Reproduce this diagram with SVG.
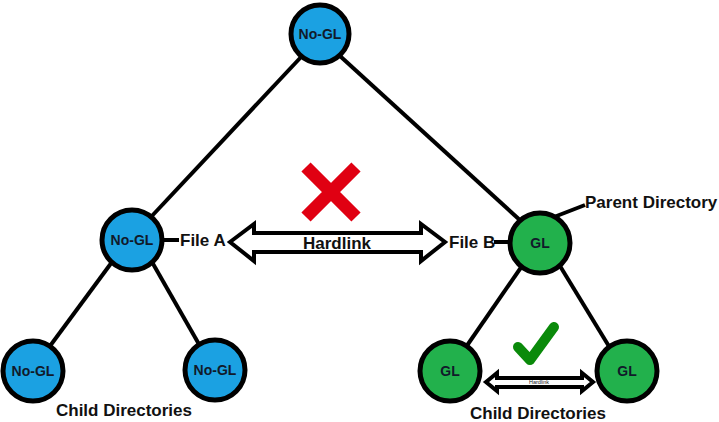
<svg xmlns="http://www.w3.org/2000/svg" width="719" height="422" viewBox="0 0 719 422">
<style>
.blue{fill:#1ba1e2;stroke:#000;stroke-width:5}
.green{fill:#22b14c;stroke:#000;stroke-width:5}
.nl{font-family:"Liberation Sans",Arial,sans-serif;font-weight:bold;font-size:14px;fill:#111a2a;text-anchor:middle}
.lbl{font-family:"Liberation Sans",Arial,sans-serif;font-weight:bold;font-size:17px;fill:#111}
.edge{stroke:#000;stroke-width:4;fill:none}
.arrow{fill:#fff;stroke:#000;stroke-width:4;stroke-linejoin:miter}
</style>
<rect width="719" height="422" fill="#fff"/>
<g id="connectors">
<line class="edge" x1="302" y1="56" x2="150" y2="218"/>
<line class="edge" x1="340" y1="56" x2="522" y2="222"/>
<line class="edge" x1="112" y1="262" x2="50" y2="346"/>
<line class="edge" x1="152" y1="262" x2="200" y2="346"/>
<line class="edge" x1="522" y1="266" x2="466" y2="347"/>
<line class="edge" x1="560" y1="266" x2="610" y2="348"/>
<line class="edge" x1="162" y1="240" x2="179" y2="240" stroke-width="3"/>
<line class="edge" x1="494" y1="242" x2="510" y2="242" stroke-width="3"/>
<line class="edge" x1="554" y1="217" x2="585" y2="205" stroke-width="3"/>
</g>
<g id="hardlink-big">
<path class="arrow" d="M230,242 L254,224 L254,233 L421,233 L421,224 L445,242 L421,261 L421,252 L254,252 L254,261 Z"/>
<text class="lbl" x="337" y="249" text-anchor="middle">Hardlink</text>
</g>
<g id="cross">
<path d="M306,167 L356,217 M356,167 L306,217" stroke="#e00012" stroke-width="13" fill="none"/>
</g>
<g id="hardlink-small">
<path class="arrow" stroke-width="1.3" d="M486,382 L497,373 L497,378 L582,378 L582,373 L593,382 L582,391 L582,387 L497,387 L497,391 Z"/>
<text x="539" y="384" text-anchor="middle" font-family="Liberation Sans,Arial,sans-serif" font-size="5.5" fill="#222">Hardlink</text>
</g>
<g id="check">
<path d="M518,347 L530,360 L554,327" stroke="#0a8a0a" stroke-width="10" stroke-linecap="round" stroke-linejoin="round" fill="none"/>
</g>
<g id="n-top"><circle class="blue" cx="320" cy="34" r="29"/><text class="nl" x="320" y="39">No-GL</text></g>
<g id="n-left"><circle class="blue" cx="132" cy="240" r="30"/><text class="nl" x="132" y="245">No-GL</text></g>
<g id="n-right"><circle class="green" cx="540" cy="243" r="30"/><text class="nl" x="540" y="248">GL</text></g>
<g id="n-ll"><circle class="blue" cx="33" cy="371" r="30"/><text class="nl" x="33" y="376">No-GL</text></g>
<g id="n-lr"><circle class="blue" cx="215" cy="370" r="30"/><text class="nl" x="215" y="375">No-GL</text></g>
<g id="n-rl"><circle class="green" cx="450" cy="371" r="30"/><text class="nl" x="450" y="376">GL</text></g>
<g id="n-rr"><circle class="green" cx="627" cy="371" r="30"/><text class="nl" x="627" y="376">GL</text></g>
<g id="labels">
<text class="lbl" x="180" y="246" font-size="16">File A</text>
<text class="lbl" x="449" y="248" font-size="16">File B</text>
<text class="lbl" x="585" y="208">Parent Directory</text>
<text class="lbl" x="124" y="416" text-anchor="middle">Child Directories</text>
<text class="lbl" x="538" y="419" text-anchor="middle">Child Directories</text>
</g>
</svg>
